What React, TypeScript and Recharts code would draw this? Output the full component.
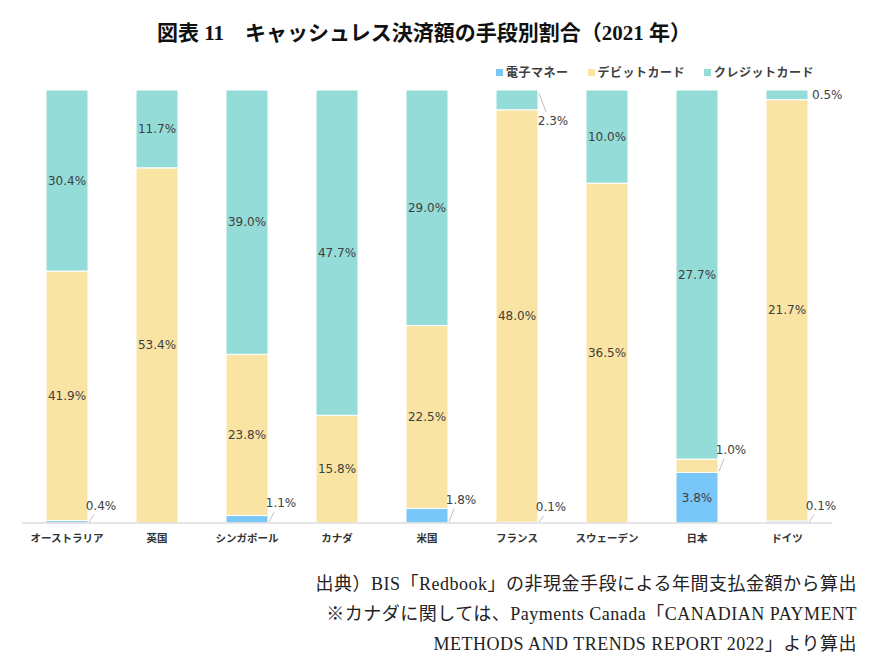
import { BarChart, Bar, XAxis, YAxis, LabelList } from 'recharts'

const CATEGORIES = ['オーストラリア', '英国', 'シンガポール', 'カナダ', '米国', 'フランス', 'スウェーデン', '日本', 'ドイツ']
const EMONEY = [0.4, 0, 1.1, 0, 1.8, 0.1, 0, 3.8, 0.1]
const DEBIT = [41.9, 53.4, 23.8, 15.8, 22.5, 48.0, 36.5, 1.0, 21.7]
const CREDIT = [30.4, 11.7, 39.0, 47.7, 29.0, 2.3, 10.0, 27.7, 0.5]

const SERIES = [
  { key: 'emoney', name: '電子マネー', color: '#79c7f8', top: false },
  { key: 'debit', name: 'デビットカード', color: '#fae4a3', top: false },
  { key: 'credit', name: 'クレジットカード', color: '#93dcd7', top: true },
]

const data = CATEGORIES.map((name, i) => ({
  name,
  emoney: EMONEY[i],
  debit: DEBIT[i],
  credit: CREDIT[i],
}))

const LABEL_FONT = '"DejaVu Sans", sans-serif'
const JP_SANS = '"Noto Sans CJK JP", sans-serif'
const JP_SERIF = '"Liberation Serif", "Noto Sans CJK JP", serif'

// small segments get their label pushed out to the right with a leader line
function renderLabel(props: any, atTop: boolean) {
  const { x, y, width, height } = props
  const v = Number(Array.isArray(props.value) ? props.value[1] - props.value[0] : props.value)
  if (!v) return null
  const text = `${v.toFixed(1)}%`
  const right = x + width
  const mid = y + height / 2
  const style = { fontSize: 12, fill: '#404040', fontFamily: LABEL_FONT }
  if (height >= 22) {
    return (
      <text x={x + width / 2} y={mid} textAnchor="middle" dominantBaseline="central" {...style}>
        {text}
      </text>
    )
  }
  if (atTop) {
    if (height < 10) {
      return (
        <text x={right + 4} y={mid} dominantBaseline="central" {...style}>
          {text}
        </text>
      )
    }
    return (
      <g>
        <line x1={right + 1} y1={y + 3} x2={right + 8} y2={y + 22} stroke="#bfbfbf" />
        <text x={right + 15} y={y + 31} textAnchor="middle" dominantBaseline="central" {...style}>
          {text}
        </text>
      </g>
    )
  }
  return (
    <g>
      <line x1={right + 1} y1={y + height - 1} x2={right + 6} y2={mid - 7} stroke="#bfbfbf" />
      <text x={right + 13} y={mid - 16} textAnchor="middle" dominantBaseline="central" {...style}>
        {text}
      </text>
    </g>
  )
}

export default function App() {
  return (
    <div
      style={{
        position: 'absolute',
        left: 0,
        top: 0,
        width: 882,
        height: 672,
        background: '#fff',
        overflow: 'hidden',
      }}
    >
      {/* Title */}
      <div
        style={{
          position: 'absolute',
          left: 0,
          width: 848,
          top: 19,
          textAlign: 'center',
          fontFamily: JP_SERIF,
          fontWeight: 700,
          fontSize: 21,
          color: '#111',
          lineHeight: '28px',
        }}
      >
        図表 11　キャッシュレス決済額の手段別割合（2021 年）
      </div>

      {/* Legend */}
      <div
        style={{
          position: 'absolute',
          left: 496,
          top: 63,
          display: 'flex',
          gap: 19,
          fontFamily: JP_SANS,
          fontWeight: 700,
          fontSize: 12,
          letterSpacing: 0.5,
          color: '#404040',
          lineHeight: '18px',
        }}
      >
        {SERIES.map((s) => (
          <div key={s.key} style={{ display: 'flex', alignItems: 'center', gap: 3 }}>
            <span style={{ width: 7, height: 7, background: s.color, display: 'inline-block' }} />
            <span>{s.name}</span>
          </div>
        ))}
      </div>

      <div style={{ position: 'absolute', left: 0, top: 0 }}>
        <BarChart
          width={882}
          height={560}
          data={data}
          stackOffset="expand"
          margin={{ top: 90, right: 50, bottom: 7, left: 22 }}
        >
          <XAxis
            dataKey="name"
            tickLine={false}
            axisLine={{ stroke: '#dcdcdc', strokeWidth: 1.5 }}
            tickMargin={6}
            height={30}
            interval={0}
            tick={{ fontSize: 10.5, fill: '#333', fontWeight: 700, fontFamily: JP_SANS }}
          />
          <YAxis hide domain={[0, 1]} />
          {SERIES.map((s) => (
            <Bar
              key={s.key}
              dataKey={s.key}
              name={s.name}
              stackId="a"
              fill={s.color}
              stroke="#ffffff"
              strokeWidth={1}
              barSize={42}
              isAnimationActive={false}
            >
              <LabelList dataKey={s.key} content={(p: any) => renderLabel(p, s.top)} />
            </Bar>
          ))}
        </BarChart>
      </div>

      {/* Source notes */}
      <div
        style={{
          position: 'absolute',
          right: 25,
          top: 569,
          textAlign: 'right',
          fontFamily: JP_SERIF,
          fontSize: 18,
          letterSpacing: 0.5,
          color: '#222',
          lineHeight: '30px',
        }}
      >
        <div>出典）BIS「Redbook」の非現金手段による年間支払金額から算出</div>
        <div>※カナダに関しては、Payments Canada「CANADIAN PAYMENT</div>
        <div>METHODS AND TRENDS REPORT 2022」より算出</div>
      </div>
    </div>
  )
}
